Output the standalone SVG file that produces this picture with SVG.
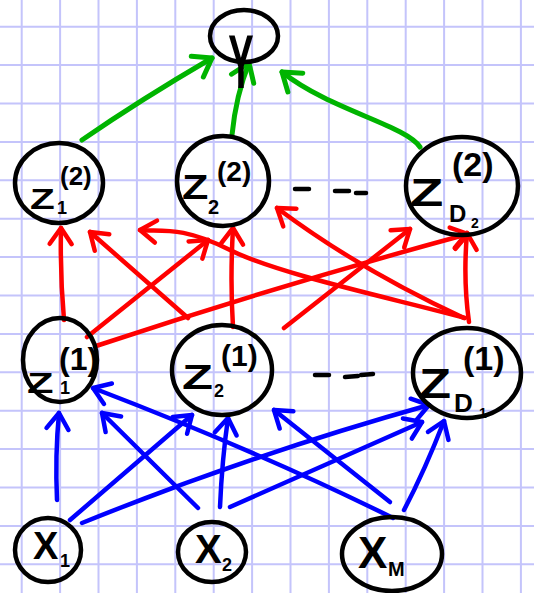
<svg xmlns="http://www.w3.org/2000/svg" width="534" height="593" viewBox="0 0 534 593">
<defs>
<style>
.grid{stroke:#c4c4fb;stroke-width:2;fill:none}
.node{fill:none;stroke:#000;stroke-width:4.5}
.lbl{font-family:"Liberation Sans",Arial,sans-serif;font-weight:bold;fill:#000}
.dash{stroke:#000;stroke-width:4.5;stroke-linecap:round}
.r{fill:none;stroke:#ff0000;stroke-width:4.5;stroke-linecap:round;marker-end:url(#hr)}
.b{fill:none;stroke:#0000ff;stroke-width:4.5;stroke-linecap:round;marker-end:url(#hb)}
.g{fill:none;stroke:#00b400;stroke-width:5;stroke-linecap:round;marker-end:url(#hg)}
</style>
<marker id="hr" markerUnits="userSpaceOnUse" markerWidth="30" markerHeight="30" viewBox="-20 -15 30 30" refX="0" refY="0" orient="auto" overflow="visible"><path d="M-16,-11 L0,0 L-16,11" fill="none" stroke="#ff0000" stroke-width="4.5" stroke-linecap="round" stroke-linejoin="round"/></marker>
<marker id="hb" markerUnits="userSpaceOnUse" markerWidth="30" markerHeight="30" viewBox="-20 -15 30 30" refX="0" refY="0" orient="auto" overflow="visible"><path d="M-16,-11 L0,0 L-16,11" fill="none" stroke="#0000ff" stroke-width="4.5" stroke-linecap="round" stroke-linejoin="round"/></marker>
<marker id="hg" markerUnits="userSpaceOnUse" markerWidth="30" markerHeight="30" viewBox="-20 -15 30 30" refX="0" refY="0" orient="auto" overflow="visible"><path d="M-17,-12 L0,0 L-17,12" fill="none" stroke="#00b400" stroke-width="5" stroke-linecap="round" stroke-linejoin="round"/></marker>
</defs>
<rect width="534" height="593" fill="#ffffff"/>
<path class="grid" d="M21.7,0V593M60.1,0V593M98.5,0V593M136.9,0V593M175.3,0V593M213.7,0V593M252.1,0V593M290.5,0V593M328.9,0V593M367.3,0V593M405.7,0V593M444.1,0V593M482.5,0V593M520.9,0V593M0,26.7H534M0,65.1H534M0,103.5H534M0,141.9H534M0,180.3H534M0,218.7H534M0,257.1H534M0,295.5H534M0,333.9H534M0,372.3H534M0,410.7H534M0,449.1H534M0,487.5H534M0,525.9H534M0,564.3H534"/>
<g id="connectors">
<path class="g" d="M82,140 Q140,100 212,58"/>
<path class="g" d="M232,135 Q236,95 249,63"/>
<path class="g" d="M420,147 C405,125 330,110 282,72"/>
<path class="r" d="M64,320 Q60,275 61,228"/>
<path class="r" d="M87,337 L208,240"/>
<path class="r" d="M96,346 Q280,285 468,234"/>
<path class="r" d="M233,327 Q230,280 233,228"/>
<path class="r" d="M188,318 L90,232"/>
<path class="r" d="M284,328 L410,229"/>
<path class="r" d="M469,322 Q463,280 467,233"/>
<path class="r" d="M464,318 Q360,270 277,208"/>
<path class="r" d="M465,318 C400,300 280,275 230,250 S160,232 140,230"/>
<path class="b" d="M57,500 Q55,455 59,413"/>
<path class="b" d="M70,520 L192,415"/>
<path class="b" d="M82,523 Q250,455 429,405"/>
<path class="b" d="M198,508 L102,413"/>
<path class="b" d="M220,507 Q222,460 228,418"/>
<path class="b" d="M230,507 L422,422"/>
<path class="b" d="M404,510 Q425,470 444,421"/>
<path class="b" d="M390,502 L274,410"/>
<path class="b" d="M393,518 Q260,452 93,388"/>
</g>
<g id="Y">
<ellipse class="node" cx="244" cy="36" rx="34" ry="26"/>
<text class="lbl" x="0" y="0" font-size="76" text-anchor="middle" transform="translate(241,88) scale(0.5,1)">Y</text>
</g>
<g id="Z1_2">
<ellipse class="node" cx="59" cy="183" rx="44" ry="40"/>
<text class="lbl" x="0" y="0" font-size="29" transform="translate(30,209) scale(1.4,1)">Z</text>
<text class="lbl" x="57" y="214" font-size="18">1</text>
<text class="lbl" x="60" y="185" font-size="26">(2)</text>
</g>
<g id="Z2_2">
<ellipse class="node" cx="223" cy="181" rx="46" ry="45"/>
<text class="lbl" x="0" y="0" font-size="36" transform="translate(182,199) scale(1.2,1)">Z</text>
<text class="lbl" x="208" y="214" font-size="20">2</text>
<text class="lbl" x="217" y="181" font-size="28">(2)</text>
</g>
<g id="ZD2_2">
<ellipse class="node" cx="462" cy="186" rx="56" ry="49"/>
<text class="lbl" x="0" y="0" font-size="39" transform="translate(410,206) scale(1.4,1)">Z</text>
<text class="lbl" x="449" y="222" font-size="24">D</text>
<text class="lbl" x="471" y="228" font-size="14">2</text>
<text class="lbl" x="452" y="176" font-size="34">(2)</text>
</g>
<g id="Z1_1">
<ellipse class="node" cx="60" cy="360" rx="37" ry="42"/>
<text class="lbl" x="0" y="0" font-size="29" transform="translate(27,393) scale(1.5,1)">Z</text>
<text class="lbl" x="60" y="394" font-size="18">1</text>
<text class="lbl" x="59" y="370" font-size="32">(1)</text>
</g>
<g id="Z2_1">
<ellipse class="node" cx="222" cy="370" rx="50" ry="45"/>
<text class="lbl" x="0" y="0" font-size="35" transform="translate(182,389) scale(1.45,1)">Z</text>
<text class="lbl" x="214" y="397" font-size="18">2</text>
<text class="lbl" x="221" y="366" font-size="30">(1)</text>
</g>
<g id="ZD1_1">
<ellipse class="node" cx="467" cy="373" rx="54" ry="45"/>
<text class="lbl" x="0" y="0" font-size="42" transform="translate(419,398) scale(1.25,1)">Z</text>
<text class="lbl" x="454" y="412" font-size="26">D</text>
<text class="lbl" x="479" y="418" font-size="14">1</text>
<text class="lbl" x="463" y="370" font-size="34">(1)</text>
</g>
<g id="dots">
<path class="dash" d="M295,189 L309,189 M335,191 L349,191 M356,193 L366,193"/>
<path class="dash" d="M315,375 L329,375 M345,377 L358,376 M361,375 L373,374"/>
</g>
<g id="X1">
<ellipse class="node" cx="48" cy="550" rx="33" ry="32"/>
<text class="lbl" x="33" y="559" font-size="38">X</text>
<text class="lbl" x="60" y="567" font-size="18">1</text>
</g>
<g id="X2">
<ellipse class="node" cx="212" cy="552" rx="34" ry="30"/>
<text class="lbl" x="195" y="563" font-size="40">X</text>
<text class="lbl" x="222" y="571" font-size="18">2</text>
</g>
<g id="XM">
<ellipse class="node" cx="392" cy="554" rx="50" ry="37"/>
<text class="lbl" x="358" y="568" font-size="44">X</text>
<text class="lbl" x="388" y="576" font-size="20">M</text>
</g>
</svg>
